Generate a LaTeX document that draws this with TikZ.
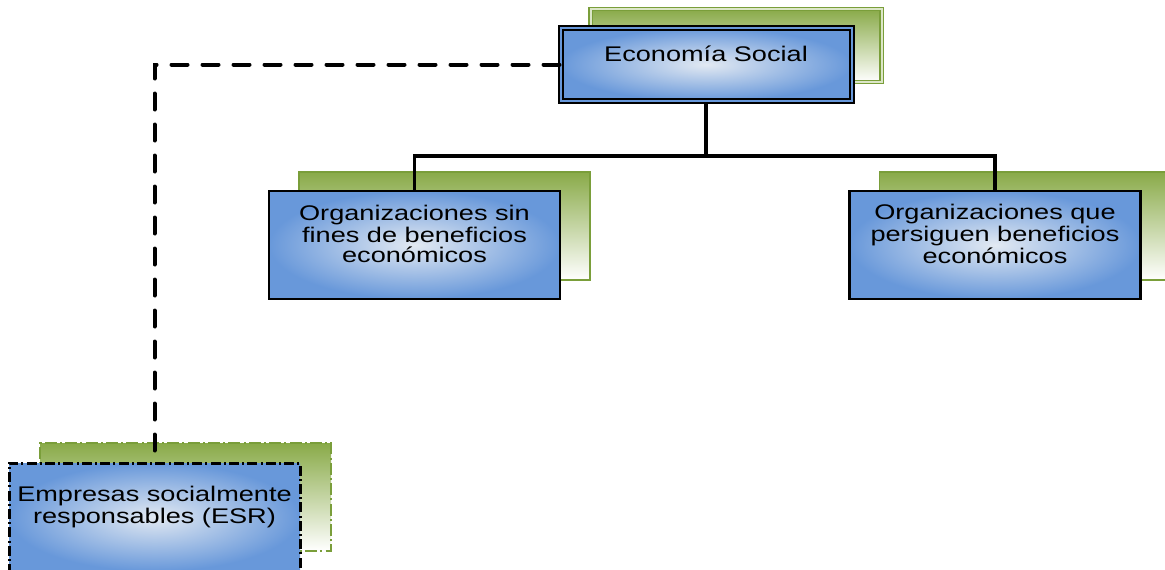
\documentclass[tikz,border=0pt]{standalone}
\usepackage{fontspec}
\setmainfont{Liberation Sans}[FakeStretch=1.28]
\usetikzlibrary{positioning,shapes}

\definecolor{boxblue}{RGB}{104,152,218}
\definecolor{boxcenter}{RGB}{226,233,242}
\definecolor{leafgreen}{RGB}{137,170,72}
\definecolor{leafedge}{RGB}{122,158,58}

\begin{document}
\begin{tikzpicture}[x=0.5pt,y=-0.5pt,
            plate/.style={rectangle,minimum width=145.5pt,minimum height=54pt,inner sep=0pt},
            card/.style={plate,draw=black,line width=1.2pt,shading=radial,inner color=boxcenter,outer color=boxblue},
            leaf/.style={plate,draw=leafedge,line width=.9pt,top color=leafgreen,middle color=leafgreen!60,bottom color=white},
            dashdot/.style={dash pattern=on 5pt off 1.6pt on 1pt off 1.6pt},
            lab/.style={align=center,font=\fontsize{10.6pt}{9.8pt}\selectfont},
            link/.style={draw,line width=1.8pt},
            esrlink/.style={link,line width=2pt,line cap=round,dash pattern=on 8pt off 7.5pt}
          ]
          \clip (0,0) rectangle (1165,569);

          \coordinate (c-econ) at (706,64.5);
          \coordinate (c-sin) at (414.5,245);
          \coordinate (c-con) at (995,245);
          \coordinate (c-esr) at (154.5,517);

          %green plates behind
          \node[leaf,minimum height=36.5pt,double=leafgreen!30,double distance=1pt,line width=.6pt] (econ-back) at ([shift={(30,-19)}]c-econ) {};
          \node[leaf] (sin-back) at ([shift={(30,-19)}]c-sin) {};
          \node[leaf] (con-back) at ([shift={(30,-19)}]c-con) {};
          \node[leaf,dash pattern=on 6pt off 1.6pt on 1pt off 1.6pt,line width=1.4pt] (esr-back) at ([shift={(31,-20)}]c-esr) {};

          %boxes
          \node[card,minimum height=36.5pt,double=boxblue,double distance=1pt,line width=1pt] (econ) at (c-econ) {};
          \node[card] (sin) at (c-sin) {};
          \node[card] (con) at (c-con) {};
          \node[card,dashdot,line width=1.5pt] (esr) at (c-esr) {};

          %labels
          \node[lab] (econ-lab) at ([yshift=5.5pt]econ.center) {Economía Social};
          \node[lab] (sin-lab) at ([yshift=5.5pt]sin.center) {Organizaciones sin\\fines de beneficios\\económicos};
          \node[lab] (con-lab) at ([yshift=5.5pt]con.center) {Organizaciones que\\persiguen beneficios\\económicos};
          \node[lab] (esr-lab) at ([yshift=5pt]esr.center) {Empresas socialmente\\responsables (ESR)};

          %tree
          \path[link] (econ.south) -- ++(0,54) coordinate (fork) -| (sin.north);
          \path[link] (fork) -| (con.north);
          \path[esrlink] (econ.west) -| (esr.north);

      \end{tikzpicture}
\end{document}
